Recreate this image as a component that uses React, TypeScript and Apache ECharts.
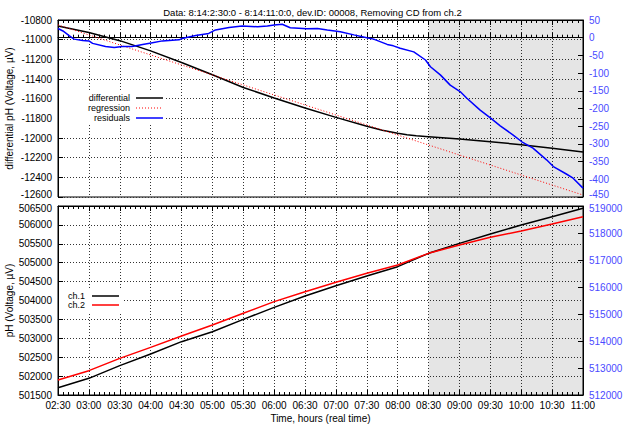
import React, { useEffect, useRef } from "react";
import * as echarts from "echarts";

// Time axis in hours (02:30 .. 11:00)
const xMin = 2.5;
const xMax = 11;
const shadeStart = 8.5;

// Top panel: differential pH signal (left axis, µV)
const diffTimes = [2.5, 3.0, 3.5, 4.0, 4.5, 5.0, 5.5, 6.0, 6.5, 7.0, 7.5, 7.75, 8.0, 8.15, 8.3, 8.5, 9.0, 9.5, 10.0, 10.5, 11.0];
const diffValues = [-10861, -10928, -11010, -11114, -11232, -11357, -11486, -11594, -11695, -11790, -11881, -11922, -11952, -11967, -11978, -11987, -12010, -12038, -12068, -12105, -12142];

// Linear regression fitted to the differential signal
const regressionTimes = [2.5, 11.0];
const regressionValues = [-10850, -12580];

// Residuals (right axis)
const residualTimes = [2.5, 2.58, 2.68, 2.76, 2.9, 3.0, 3.06, 3.27, 3.41, 3.54, 3.7, 3.87, 4.03, 4.19, 4.46, 4.51, 4.73, 4.94, 5.05, 5.27, 5.48, 5.73, 5.89, 6.0, 6.13, 6.26, 6.53, 6.7, 6.86, 7.07, 7.29, 7.5, 7.61, 7.83, 7.93, 8.04, 8.26, 8.45, 8.53, 8.69, 8.85, 9.01, 9.12, 9.33, 9.51, 9.66, 9.87, 10.01, 10.19, 10.41, 10.52, 10.73, 10.84, 11.0];
const residualValues = [26, 19, 6, -4, -8, -9, -16, -25, -28, -25, -25, -19, -14, -9, -6, -2, 6, 12, 22, 29, 33, 31, 33, 36, 38, 28, 25, 26, 22, 17, 8, 0, -4, -19, -23, -30, -40, -63, -82, -105, -134, -152, -171, -204, -228, -249, -275, -294, -312, -345, -364, -385, -397, -425];

// Bottom panel: single-channel pH signals
const chTimes = [2.5, 3.0, 3.5, 4.0, 4.5, 5.0, 5.5, 6.0, 6.5, 7.0, 7.5, 8.0, 8.5, 9.0, 9.5, 10.0, 10.5, 11.0];
const ch1Values = [501694, 501941, 502276, 502585, 502911, 503175, 503501, 503819, 504118, 504392, 504648, 504895, 505248, 505512, 505759, 505997, 506218, 506438];
const ch2Values = [512556, 512901, 513358, 513765, 514185, 514593, 515025, 515457, 515827, 516173, 516506, 516815, 517247, 517556, 517840, 518074, 518333, 518605];

const FONT = "'Liberation Sans', Arial, Helvetica, sans-serif";
const Y2_COLOR = "#4a4aff";

const pairs = (t: number[], v: number[]) => t.map((x, i) => [x, v[i]]);

const fmtTime = (h: number) => {
  const hh = Math.floor(h + 1e-9);
  const mm = Math.round((h - hh) * 60);
  return `${String(hh).padStart(2, "0")}:${String(mm).padStart(2, "0")}`;
};

const gridLine = { show: true, lineStyle: { color: "#333", type: [1, 2] as any, width: 1 } };

function xAxisCfg(gridIndex: number, position: "top" | "bottom", labels: boolean, split: boolean) {
  return {
    type: "value",
    gridIndex,
    position,
    min: xMin,
    max: xMax,
    interval: 0.5,
    axisLine: { show: true, lineStyle: { color: "#000", width: 1 } },
    axisTick: { show: true, inside: true, length: 5, lineStyle: { color: "#000" } },
    minorTick: { show: true, splitNumber: 6, length: 3, lineStyle: { color: "#000" } },
    axisLabel: {
      show: labels,
      formatter: (v: number) => fmtTime(v),
      color: "#000",
      fontFamily: FONT,
      fontSize: 10,
      margin: 5,
    },
    splitLine: split ? gridLine : { show: false },
    ...(labels
      ? {
          name: "Time, hours (real time)",
          nameLocation: "middle",
          nameGap: 18,
          nameMoveOverlap: false,
          nameTextStyle: { color: "#000", fontFamily: FONT, fontSize: 10 },
        }
      : {}),
  };
}

// nudge: "up" lifts the lowest label, "down" lowers the highest one,
// so the labels of the two stacked panels stay apart
function yAxisCfg(
  gridIndex: number,
  position: "left" | "right",
  min: number,
  max: number,
  interval: number,
  color: string,
  split: boolean,
  nudge: "up" | "down",
  name?: string
) {
  return {
    type: "value",
    gridIndex,
    position,
    min,
    max,
    interval,
    axisLine: { show: true, lineStyle: { color: "#000", width: 1 } },
    axisTick: { show: true, inside: true, length: 5, lineStyle: { color: "#000" } },
    axisLabel: {
      color,
      fontFamily: FONT,
      fontSize: 10,
      margin: 6,
      formatter: (v: number) => {
        if (nudge === "up" && v === min) return `{up|${v}}`;
        if (nudge === "down" && v === max) return `{down|${v}}`;
        return String(v);
      },
      rich: {
        up: { color, fontFamily: FONT, fontSize: 10, padding: [0, 0, 5, 0] },
        down: { color, fontFamily: FONT, fontSize: 10, padding: [5, 0, 0, 0] },
      },
    },
    splitLine: split ? gridLine : { show: false },
    ...(name
      ? {
          name,
          nameLocation: "middle",
          nameGap: 44,
          nameMoveOverlap: false,
          nameTextStyle: { color: "#000", fontFamily: FONT, fontSize: 10 },
        }
      : {}),
  };
}

const shade = {
  silent: true,
  itemStyle: { color: "rgba(0,0,0,0.1)" },
  data: [[{ xAxis: shadeStart }, { xAxis: xMax }]],
};

export default function App() {
  const ref = useRef<HTMLDivElement>(null);

  useEffect(() => {
    if (!ref.current) return;
    const chart = echarts.init(ref.current, null, { renderer: "svg" });

    const legendText = (text: string, x: number, y: number) => ({
      type: "text",
      x,
      y,
      style: { text, fill: "#000", font: `9px ${FONT}`, textAlign: "right", textVerticalAlign: "middle" },
      z: 101,
    });
    const legendLine = (x1: number, x2: number, y: number, stroke: string, dash?: number[]) => ({
      type: "line",
      shape: { x1, y1: y, x2, y2: y },
      style: { stroke, lineWidth: dash ? 1 : 1.5, lineDash: dash },
      z: 101,
    });

    const gridBase = {
      left: 58,
      right: 42,
      show: true,
      borderColor: "#000",
      borderWidth: 1,
      backgroundColor: "transparent",
      containLabel: false,
      outerBoundsMode: "none",
    };

    chart.setOption({
      animation: false,
      backgroundColor: "#fff",
      title: {
        text: "Data: 8:14:2:30:0 - 8:14:11:0:0, dev.ID: 00008, Removing CD from ch.2",
        left: "center",
        top: 2,
        textStyle: { color: "#000", fontFamily: FONT, fontSize: 9.5, fontWeight: "normal" },
      },
      grid: [
        { ...gridBase, top: 20, height: 177 },
        { ...gridBase, top: 206, height: 189 },
      ],
      xAxis: [
        xAxisCfg(0, "bottom", false, true),
        xAxisCfg(0, "top", false, false),
        xAxisCfg(1, "bottom", true, true),
        xAxisCfg(1, "top", false, false),
      ],
      yAxis: [
        yAxisCfg(0, "left", -12600, -10800, 200, "#000", true, "up", "differential pH (Voltage, µV)"),
        yAxisCfg(0, "right", -450, 50, 50, Y2_COLOR, false, "up"),
        yAxisCfg(1, "left", 501500, 506500, 500, "#000", true, "down", "pH (Voltage, µV)"),
        yAxisCfg(1, "right", 512000, 519000, 1000, Y2_COLOR, false, "down"),
      ],
      series: [
        {
          name: "differential",
          type: "line",
          xAxisIndex: 0,
          yAxisIndex: 0,
          data: pairs(diffTimes, diffValues),
          showSymbol: false,
          lineStyle: { color: "#000", width: 1.5 },
          markArea: shade,
          z: 3,
        },
        {
          name: "regression",
          type: "line",
          xAxisIndex: 0,
          yAxisIndex: 0,
          data: pairs(regressionTimes, regressionValues),
          showSymbol: false,
          lineStyle: { color: "#ff0000", width: 1, type: [1, 2] },
          z: 3,
        },
        {
          name: "residuals",
          type: "line",
          xAxisIndex: 0,
          yAxisIndex: 1,
          data: pairs(residualTimes, residualValues),
          showSymbol: false,
          lineStyle: { color: "#0000ff", width: 1.5 },
          z: 3,
        },
        {
          name: "ch.1",
          type: "line",
          xAxisIndex: 2,
          yAxisIndex: 2,
          data: pairs(chTimes, ch1Values),
          showSymbol: false,
          lineStyle: { color: "#000", width: 1.5 },
          markArea: shade,
          z: 3,
        },
        {
          name: "ch.2",
          type: "line",
          xAxisIndex: 2,
          yAxisIndex: 3,
          data: pairs(chTimes, ch2Values),
          showSymbol: false,
          lineStyle: { color: "#ff0000", width: 1.5 },
          z: 3,
        },
      ],
      graphic: [
        // key boxes
        { type: "rect", shape: { x: 59, y: 90, width: 105, height: 34 }, style: { fill: "#fff" }, z: 100 },
        { type: "rect", shape: { x: 59, y: 288, width: 64, height: 24 }, style: { fill: "#fff" }, z: 100 },
        legendText("differential", 130, 98),
        legendLine(136, 163, 98, "#000"),
        legendText("regression", 130, 108),
        legendLine(136, 163, 108, "#ff0000", [1, 2]),
        legendText("residuals", 130, 118),
        legendLine(136, 163, 118, "#0000ff"),
        legendText("ch.1", 85, 296),
        legendLine(92, 119, 296, "#000"),
        legendText("ch.2", 85, 305),
        legendLine(92, 119, 305, "#ff0000"),
      ],
    });

    return () => chart.dispose();
  }, []);

  return <div ref={ref} style={{ position: "fixed", left: 0, top: 0, width: 625, height: 429 }} />;
}
